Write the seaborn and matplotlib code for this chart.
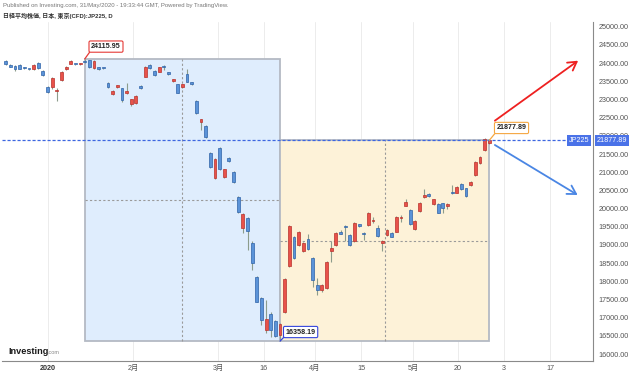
import numpy as np
import pandas as pd
import matplotlib
matplotlib.use('Agg')
import matplotlib.pyplot as plt
from matplotlib.patches import Rectangle
import seaborn as sns

# daily JP225 CFD bars, Dec 2019 - end of May 2020
opens = [24060, 23958, 23922, 23958, 23875, 23832, 23832, 23996, 23793, 23353,
         23336, 23230, 23537, 23831, 23985, 23970, 23985, 24070, 24080, 23859,
         23886, 23860, 23463, 23144, 23336, 23309, 23179, 22877, 22896, 23382,
         23628, 23958, 23785, 23765, 23903, 23749, 23510, 23419, 23336, 23694,
         23474, 22968, 22390, 22272, 21530, 20842, 21667, 20870, 21392, 21007,
         20328, 19467, 19742, 19055, 18128, 17542, 16662, 17103, 16918, 16525,
         17157, 18422, 19220, 18999, 18843, 19165, 18642, 17900, 17762, 17817,
         18834, 18999, 19357, 19495, 19275, 19110, 19569, 19302, 19549, 19660,
         19467, 19063, 19275, 19330, 19365, 19750, 20080, 19962, 19440, 19935,
         20311, 20402, 20119, 20127, 20146, 20080, 20457, 20438, 20677, 20567,
         20641, 20925, 21246, 21612, 21797]
highs = [24090, 23975, 23940, 23975, 23900, 23850, 23975, 24020, 23810, 23372,
         23620, 23309, 23780, 23920, 24075, 23990, 24000, 24115.95, 24100, 24075,
         23900, 23880, 23480, 23260, 23410, 23330, 23463, 23020, 23120, 23400,
         23920, 23975, 23800, 23900, 23958, 23765, 23570, 23435, 23440, 23831,
         23490, 22990, 22470, 22290, 21560, 21380, 21690, 21100, 21410, 21030,
         20350, 19870, 19760, 19118, 18150, 17560, 17488, 17165, 16940, 16850,
         18080, 19540, 19240, 19380, 19080, 19302, 18660, 18090, 17930, 18560,
         19118, 19360, 19410, 19550, 19290, 19630, 19590, 19365, 19900, 19770,
         19560, 19130, 19430, 19350, 19790, 19825, 20275, 19980, 19680, 20180,
         20540, 20420, 20270, 20145, 20160, 20150, 20640, 20620, 20700, 20580,
         20760, 21310, 21450, 21940, 21920]
lows = [23960, 23890, 23785, 23830, 23850, 23815, 23820, 23840, 23650, 23171,
        23300, 22968, 23500, 23810, 23970, 23950, 23960, 24010, 23870, 23840,
        23820, 23840, 23330, 23120, 23320, 22940, 23160, 22820, 22880, 23300,
        23610, 23840, 23660, 23750, 23812, 23680, 23495, 23170, 23320, 23475,
        23400, 22600, 22162, 21950, 21120, 20820, 21060, 20850, 21290, 20700,
        19890, 19330, 18862, 18308, 17420, 16800, 16580, 16478, 16470, 16358.19,
        17140, 18400, 18620, 18980, 18820, 18870, 17845, 17625, 17700, 17800,
        18540, 18980, 19290, 19100, 18980, 19090, 19500, 19137, 19530, 19605,
        19230, 18843, 19260, 19210, 19350, 19640, 20060, 19560, 19420, 19920,
        20290, 20330, 20100, 19870, 19871, 20000, 20400, 20420, 20500, 20330,
        20620, 20900, 21230, 21590, 21780]
closes = [23977, 23903, 23840, 23848, 23870, 23828, 23958, 23859, 23675, 23215,
          23600, 23235, 23765, 23903, 24060, 23968, 23988, 24030, 23890, 24060,
          23831, 23858, 23353, 23243, 23400, 22987, 23234, 23006, 23105, 23326,
          23903, 23859, 23675, 23886, 23900, 23694, 23556, 23188, 23427, 23490,
          23427, 22621, 22456, 21970, 21145, 21365, 21090, 21090, 21310, 20732,
          19915, 19852, 19385, 18513, 17440, 16937, 16965, 16662, 16497, 16828,
          18065, 19522, 18642, 19365, 19063, 18890, 18037, 17762, 17908, 18540,
          18925, 19338, 19302, 19490, 18999, 19613, 19522, 19300, 19888, 19665,
          19247, 19110, 19412, 19228, 19778, 19755, 20190, 19577, 19660, 20162,
          20375, 20347, 20256, 19888, 20009, 20127, 20421, 20603, 20531, 20347,
          20740, 21290, 21428, 21906, 21877.89]

tick_labels = ['2020', '2月', '3月', '16', '4月', '15', '5月', '20', '3', '17']
tick_bars = [9, 27.4, 45.7, 55.5, 66.5, 76.4, 87.6, 97.3, 107.2, 117.1]

# hand drawn trend arrows (bar, price)
up_arrow = [(105.2, 22418), (123.1, 24068)]
down_arrow = [(105.2, 21750), (123.0, 20375)]

df = pd.DataFrame({'open': opens, 'high': highs, 'low': lows, 'close': closes})
df['bar'] = np.arange(len(df))
df['up'] = df['close'] >= df['open']

sns.set_style('white')
plt.rcParams['font.family'] = ['Liberation Sans', 'Noto Sans CJK JP', 'DejaVu Sans']

fig = plt.figure(figsize=(6.3, 3.74), dpi=100)
ax = fig.add_axes([2 / 630, 13 / 374, 591 / 630, 339 / 374])

RED, RED_EDGE = '#e8524a', '#b8322c'
BLUE, BLUE_EDGE = '#5b93d8', '#2f63a8'

# high / low boxes
i_hi = int(df['high'].idxmax())
i_lo = int(df['low'].idxmin())
hi = df['high'].max()
lo = df['low'].min()
last = df['close'].iloc[-1]
i_last = len(df) - 1

ax.add_patch(Rectangle((i_hi, lo), i_lo - i_hi, hi - lo, facecolor='#dfedfd',
                       edgecolor='#b4bac4', lw=1.3, zorder=1))
ax.add_patch(Rectangle((i_lo, lo), i_last - i_lo, last - lo, facecolor='#fdf2d8',
                       edgecolor='#b4bac4', lw=1.3, zorder=1))
for x0, x1, y0, y1 in [(i_hi, i_lo, lo, hi), (i_lo, i_last, lo, last)]:
    ax.plot([(x0 + x1) / 2] * 2, [y0, y1], ls=(0, (2, 2)), color='#9a9a9a', lw=0.8, zorder=1.5)
    ax.plot([x0, x1], [(y0 + y1) / 2] * 2, ls=(0, (2, 2)), color='#9a9a9a', lw=0.8, zorder=1.5)

# candles
ax.vlines(df['bar'], df['low'], df['high'], color='#8c9c8c', lw=0.8, zorder=2)
body = (df['close'] - df['open']).abs().clip(lower=30)
bottom = df[['open', 'close']].min(axis=1)
colors = np.where(df['up'], RED, BLUE)
edges = np.where(df['up'], RED_EDGE, BLUE_EDGE)
ax.bar(df['bar'], body, bottom=bottom, width=0.62, color=colors, edgecolor=edges,
       linewidth=0.5, zorder=3)

# last price line
ax.axhline(last, color='#3d66e0', lw=0.9, ls=(0, (2.5, 1.5)), zorder=4, xmax=0.96)
ax.text(0.994, last, 'JP225', transform=ax.get_yaxis_transform(), ha='right', va='center',
        fontsize=5.2, color='white', zorder=6, clip_on=False,
        bbox=dict(boxstyle='square,pad=0.25', fc='#4a72e8', ec='none'))
ax.text(1.006, last, f'{last:.2f}', transform=ax.get_yaxis_transform(), ha='left', va='center',
        fontsize=5.2, color='white', zorder=6, clip_on=False,
        bbox=dict(boxstyle='square,pad=0.25', fc='#4a72e8', ec='none'))

# price callouts
for xb, yv, off, ec in [(i_hi, hi, (15.3, 8.9), '#e53935'),
                         (i_lo, lo, (14.8, 6.5), '#3344dd'),
                         (i_last, last, (16, 8.9), '#f5a742')]:
    ax.annotate(f'{yv:.2f}', xy=(xb, yv), xytext=off, textcoords='offset points',
                ha='center', va='center', fontsize=5.1, fontweight='bold', color='#222222',
                bbox=dict(boxstyle='round,pad=0.3,rounding_size=0.2', fc='white', ec=ec, lw=0.8),
                arrowprops=dict(arrowstyle='-', color=ec, lw=0.9, shrinkA=0, shrinkB=0,
                                relpos=(0, 0)), zorder=7)

# trend arrows
for pts, col in [(up_arrow, '#ee2020'), (down_arrow, '#4a86e4')]:
    ax.annotate('', xy=pts[1], xytext=pts[0],
                arrowprops=dict(arrowstyle='->,head_length=0.6,head_width=0.35', color=col,
                                lw=1.3, shrinkA=0, shrinkB=0, mutation_scale=10), zorder=5)

ax.set_xlim((2 - 5.7) / 4.65, (593 - 5.7) / 4.65)
ax.set_ylim(25000 - (361 - 26.8) * 27.5, 25000 - (22 - 26.8) * 27.5)

ax.yaxis.tick_right()
ax.set_yticks(np.arange(16000, 25001, 500))
ax.set_yticklabels([f'{v:.2f}' for v in np.arange(16000, 25001, 500)])
ax.tick_params(axis='y', length=2.5, width=0.6, color='#777777', labelsize=5.2,
               labelcolor='#555555', pad=1.5)
ax.set_xticks(tick_bars)
ax.set_xticklabels(tick_labels)
ax.tick_params(axis='x', length=0, labelsize=5.2, labelcolor='#555555', pad=3)
ax.get_xticklabels()[0].set_fontweight('bold')
ax.get_xticklabels()[0].set_color('#333333')
ax.grid(axis='x', color='#ececec', lw=0.7)
ax.grid(axis='y', visible=False)
sns.despine(ax=ax, left=True, top=True, right=False)
for side in ['right', 'bottom']:
    ax.spines[side].set_color('#8a8a8a')
    ax.spines[side].set_linewidth(0.8)

fig.text(3 / 630, 1 - 5 / 374, 'Published on Investing.com, 31/May/2020 - 19:33:44 GMT, Powered by TradingView.',
         fontsize=4.3, color='#777777', va='center')
fig.text(3 / 630, 1 - 15.5 / 374, '日経平均株価, 日本, 東京(CFD):JP225, D',
         fontsize=4.3, color='#333333', va='center', fontweight='bold')
fig.text(8 / 630, 1 - 351 / 374, 'Investing', fontsize=6.6, fontweight='bold', color='#1a1a1a', va='center')
fig.text(47 / 630, 1 - 352.5 / 374, '.com', fontsize=4, color='#888888', va='center')

fig.savefig('out.png', dpi=100)
